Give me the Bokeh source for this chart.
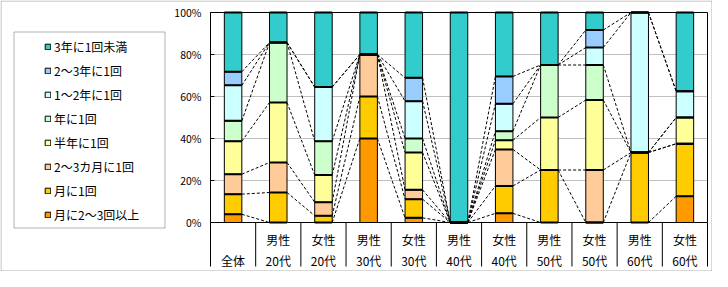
from bokeh.plotting import figure
from bokeh.models import Range1d, Legend, LegendItem, BoxAnnotation
from bokeh.core.properties import value
from bokeh.embed import file_html
from bokeh.resources import INLINE

# ---- data ----
top_labels = ["", "男性", "女性", "男性", "女性", "男性", "女性", "男性", "女性", "男性", "女性"]
bottom_labels = ["全体", "20代", "20代", "30代", "30代", "40代", "40代", "50代", "50代", "60代", "60代"]

series_names = ["月に2～3回以上", "月に1回", "2～3カ月に1回", "半年に1回",
                "年に1回", "1～2年に1回", "2～3年に1回", "3年に1回未満"]
series_colors = ["#FF9900", "#FFCC00", "#FFCC99", "#FFFF99",
                 "#CCFFCC", "#CCFFFF", "#99CCFF", "#33CCCC"]

s_month23 = [3.9, 0, 0, 40, 2.22, 0, 4.35, 0, 0, 0, 12.5]
s_month1 = [9.6, 14.29, 3.23, 20, 8.89, 0, 13.04, 25, 0, 33.33, 25]
s_3month = [9.5, 14.29, 6.45, 20, 4.44, 0, 17.39, 0, 25, 0, 0]
s_half = [15.7, 28.57, 12.9, 0, 17.78, 0, 4.35, 25, 33.33, 0, 12.5]
s_year = [9.7, 28.57, 16.13, 0, 6.67, 0, 4.35, 25, 16.67, 0, 0]
s_1_2y = [16.9, 0, 25.81, 0, 17.78, 0, 13.04, 0, 8.33, 66.67, 12.5]
s_2_3y = [6.5, 0, 0, 0, 11.11, 0, 13.04, 0, 8.33, 0, 0]
s_3y = [28.2, 14.29, 35.48, 20, 31.11, 100, 30.43, 25, 8.33, 0, 37.5]

y_ticks = [0, 20, 40, 60, 80, 100]
y_tick_labels = ["0%", "20%", "40%", "60%", "80%", "100%"]

series = [s_month23, s_month1, s_3month, s_half, s_year, s_1_2y, s_2_3y, s_3y]

# ---- layout (pixels) ----
FONT = "Noto Sans CJK JP"
W, H = 712, 271
PL, PR, PT, PB = 210, 707, 12, 222      # plot area
n = len(bottom_labels)
XMIN, XMAX = -0.5, n - 0.5
PPX = (PR - PL) / (XMAX - XMIN)
PPY = (PB - PT) / 100.0
X0 = XMIN - PL / PPX
X1 = XMAX + (W - PR) / PPX
Y0 = 0 - (H - PB) / PPY
Y1 = 100 + PT / PPY
BAR_W = 17.5 / PPX


def dx(px):
    return X0 + px / PPX


def dy(py):
    return Y1 - py / PPY


p = figure(width=W, height=H, x_range=Range1d(X0, X1), y_range=Range1d(Y0, Y1),
           output_backend="svg", toolbar_location=None,
           x_axis_location=None, y_axis_location=None, min_border=0)
p.min_border_left = p.min_border_right = p.min_border_top = p.min_border_bottom = 0
p.background_fill_color = "white"
p.border_fill_color = "white"
p.outline_line_color = None
p.grid.visible = False

xs = list(range(n))

# horizontal gridlines
gy = [t for t in y_ticks if 0 < t < 100]
p.segment(x0=[XMIN] * len(gy), x1=[XMAX] * len(gy), y0=gy, y1=gy,
          line_color="#C0C0C0", line_width=1)

# stacks
cums = []
running = [0.0] * n
for s in series:
    bottom = running[:]
    top = [b + v for b, v in zip(bottom, s)]
    cums.append((bottom, top))
    running = top

# series lines
sx0, sy0, sx1, sy1 = [], [], [], []
for bottom, top in cums:
    for i in range(n - 1):
        sx0.append(xs[i] + BAR_W / 2)
        sx1.append(xs[i + 1] - BAR_W / 2)
        sy0.append(top[i])
        sy1.append(top[i + 1])
p.segment(x0=sx0, y0=sy0, x1=sx1, y1=sy1, line_color="black", line_width=1, line_dash="3 2")

renderers = []
for (bottom, top), c in zip(cums, series_colors):
    r = p.vbar(x=xs, width=BAR_W, bottom=bottom, top=top, fill_color=c,
               line_color="black", line_width=1)
    renderers.append(r)

# thick boundaries between stacked segments
bx0, bx1, by = [], [], []
for bottom, top in cums:
    for i in range(n):
        bx0.append(xs[i] - BAR_W / 2)
        bx1.append(xs[i] + BAR_W / 2)
        by.append(top[i])
p.segment(x0=bx0, x1=bx1, y0=by, y1=by, line_color="black", line_width=2)

# plot area border
p.quad(left=[XMIN], right=[XMAX], bottom=[0], top=[100], fill_color=None,
       line_color="black", line_width=1)

# y ticks (inward) and labels
p.segment(x0=[XMIN] * len(y_ticks), x1=[XMIN + 4 / PPX] * len(y_ticks), y0=y_ticks, y1=y_ticks,
          line_color="black", line_width=1)
p.text(x=[dx(PL - 9)] * len(y_ticks), y=y_ticks, text=y_tick_labels, text_align="right",
       text_baseline="middle", text_font=value(FONT), text_font_size="10.5px", text_color="black")

# category separators below the plot area
sep_x = [i - 0.5 for i in range(n + 1)]
p.segment(x0=sep_x, x1=sep_x, y0=[0] * len(sep_x), y1=[dy(PB + 44)] * len(sep_x),
          line_color="black", line_width=1)

# category labels
p.text(x=xs, y=[dy(PB + 17)] * n, text=top_labels, text_align="center", text_baseline="middle",
       text_font=value(FONT), text_font_size="12px", text_color="black")
p.text(x=xs, y=[dy(PB + 38)] * n, text=bottom_labels, text_align="center", text_baseline="middle",
       text_font=value(FONT), text_font_size="12px", text_color="black")

# legend box
p.add_layout(BoxAnnotation(left=dx(13.5), right=dx(164.5), top=dy(31.5), bottom=dy(227.5),
                           fill_color="white", fill_alpha=1, line_color="black", line_width=1,
                           level="annotation"))

items = [LegendItem(label=nm, renderers=[r]) for nm, r in zip(series_names, renderers)][::-1]
legend = Legend(items=items, location=(37, 41), padding=7, spacing=6, label_height=18,
                glyph_width=7, glyph_height=7, label_standoff=3, margin=0,
                border_line_alpha=0, background_fill_alpha=0,
                label_text_font=FONT, label_text_font_size="12px", label_text_color="black")
p.add_layout(legend, "center")

# outer chart border
p.add_layout(BoxAnnotation(left=dx(0.5), right=dx(W - 0.5), top=dy(0.5), bottom=dy(H - 0.5),
                           fill_alpha=0, line_color="black", line_width=1, level="overlay"))

open("out.html", "w").write(file_html(p, INLINE))
